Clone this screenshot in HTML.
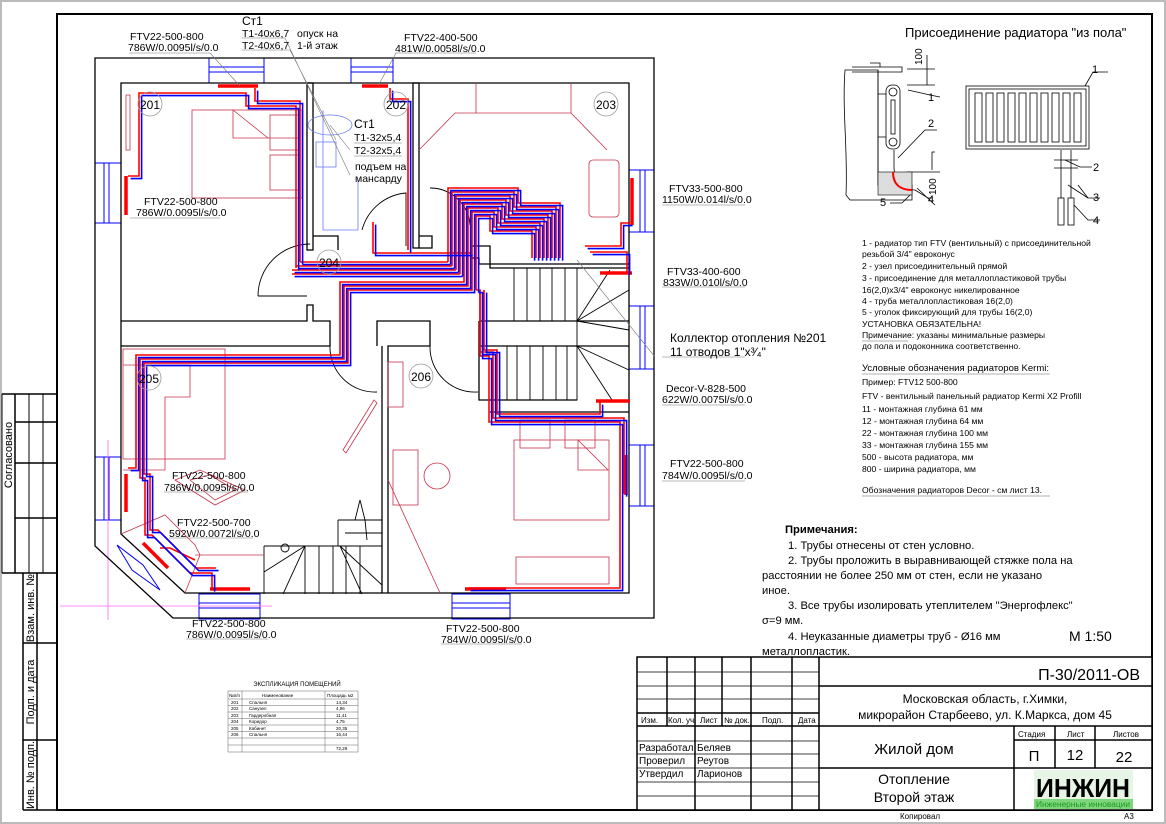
<!DOCTYPE html>
<html><head><meta charset="utf-8"><style>
html,body{margin:0;padding:0;background:#fff}
svg{display:block}
text{font-family:"Liberation Sans",sans-serif;fill:#000}
</style></head><body>
<svg width="1166" height="824" viewBox="0 0 1166 824" xmlns="http://www.w3.org/2000/svg">
<rect x="0" y="0" width="1166" height="824" fill="#fff"/>
<rect x="1" y="1" width="1164" height="822" fill="none" stroke="#bbb" stroke-width="2"/>
<rect x="57" y="14" width="1095" height="796" fill="none" stroke="#000" stroke-width="2"/>
<g stroke="#000" fill="none">
<line x1="2" y1="394" x2="57" y2="394" stroke-width="1.5"/>
<line x1="15" y1="394" x2="15" y2="573" stroke-width="1.5"/>
<line x1="29" y1="394" x2="29" y2="573"/>
<line x1="43" y1="394" x2="43" y2="573"/>
<line x1="15" y1="422" x2="57" y2="422" stroke-width="1.5"/>
<line x1="15" y1="463" x2="57" y2="463" stroke-width="1.5"/>
<line x1="15" y1="518" x2="57" y2="518" stroke-width="1.5"/>
<line x1="2" y1="573" x2="57" y2="573" stroke-width="1.5"/>
<line x1="23" y1="573" x2="23" y2="810" stroke-width="1.5"/>
<line x1="37" y1="573" x2="37" y2="810" stroke-width="1.5"/>
<line x1="23" y1="643" x2="57" y2="643" stroke-width="1.5"/>
<line x1="23" y1="740" x2="57" y2="740" stroke-width="1.5"/>
<line x1="23" y1="810" x2="57" y2="810" stroke-width="1.5"/>
<line x1="2" y1="394" x2="2" y2="573"/>
</g>
<g font-size="11">
<text transform="translate(12,455) rotate(-90)" text-anchor="middle">Согласовано</text>
<text transform="translate(34,608) rotate(-90)" text-anchor="middle">Взам. инв. №</text>
<text transform="translate(34,692) rotate(-90)" text-anchor="middle">Подп. и дата</text>
<text transform="translate(34,775) rotate(-90)" text-anchor="middle">Инв. № подп.</text>
</g>

<g stroke="#0000ff" fill="none" stroke-width="1">
<rect x="209" y="58" width="55" height="25"/><line x1="209" y1="67" x2="264" y2="67"/><line x1="209" y1="72" x2="264" y2="72"/>
<rect x="351" y="58" width="42" height="25"/><line x1="351" y1="67" x2="393" y2="67"/><line x1="351" y1="72" x2="393" y2="72"/>
<rect x="95" y="163" width="26" height="60"/><line x1="104" y1="163" x2="104" y2="223"/><line x1="109" y1="163" x2="109" y2="223"/>
<rect x="95" y="457" width="26" height="63"/><line x1="104" y1="457" x2="104" y2="520"/><line x1="109" y1="457" x2="109" y2="520"/>
<rect x="629" y="170" width="25" height="62"/><line x1="640" y1="170" x2="640" y2="232"/><line x1="645" y1="170" x2="645" y2="232"/>
<rect x="629" y="306" width="25" height="63"/><line x1="640" y1="306" x2="640" y2="369"/><line x1="645" y1="306" x2="645" y2="369"/>
<rect x="629" y="445" width="25" height="61"/><line x1="640" y1="445" x2="640" y2="506"/><line x1="645" y1="445" x2="645" y2="506"/>
<rect x="199" y="594" width="61" height="25"/><line x1="199" y1="603" x2="260" y2="603"/><line x1="199" y1="608" x2="260" y2="608"/>
<rect x="452" y="594" width="58" height="25"/><line x1="452" y1="603" x2="510" y2="603"/><line x1="452" y1="608" x2="510" y2="608"/>
<polygon points="117,545 143,565 160,590 132,570"/>
</g>
<g stroke="#ff66ff" stroke-width="0.8">
<line x1="108" y1="440" x2="108" y2="620"/><line x1="60" y1="606" x2="272" y2="606"/>
</g>
<g stroke="#000" fill="none" stroke-width="1.3">
<path d="M95,58 H654 V618 H173 L95,546 Z"/>
<path d="M121,83 H629 V593 H185 L121,534 Z"/>
<rect x="307" y="83" width="6" height="167"/>
<path d="M313,236 H338 V250"/>
<rect x="413" y="83" width="6" height="165"/>
<path d="M419,236 H432 V248 H419"/>
<path d="M121,321 H307 V305 H313 V321 H330 V346 H121"/>
<path d="M377,346 V321 H430 V346 H388 V593 M382,346 V593"/>
<path d="M479,321 H629 M479,321 V346 H629"/>
<path d="M470,246 H490 V264 H629 M470,258 H479 V264 H490 V268 H629"/>
<path d="M490,412 H629 M490,400 H577"/>
<path d="M479,346 V400 H490"/>
</g>
<g stroke="#000" fill="none" stroke-width="0.9">
<rect x="514" y="268" width="63" height="53"/>
<line x1="527" y1="268" x2="527" y2="321"/><line x1="540" y1="268" x2="540" y2="321"/><line x1="552" y1="268" x2="552" y2="321"/><line x1="565" y1="268" x2="565" y2="321"/>
<rect x="507" y="346" width="70" height="54"/>
<line x1="517" y1="346" x2="517" y2="400"/><line x1="530" y1="346" x2="530" y2="400"/><line x1="543" y1="346" x2="543" y2="400"/><line x1="556" y1="346" x2="556" y2="400"/><line x1="567" y1="346" x2="567" y2="400"/>
<path d="M577,321 L629,290 M577,321 L610,270 M577,321 L629,330 M577,346 L629,370 M577,346 L612,400 M577,321 V346"/>
<path d="M264,546 H382 M264,546 V594 M305,546 V594 M319,546 V594 M333,546 V594 M346,546 V594 M360,546 V594 M305,546 L283,594 M305,546 L264,572 M340,546 L362,594 M340,546 L382,585"/>
<circle cx="285" cy="548" r="4"/>
<path d="M338,520 H382 M338,520 V546 M345,533 H382 M355,520 L360,500 L365,520 L367,540"/>
<path d="M258,296 A52,52 0 0 1 310,244"/><path d="M258,296 H307"/>
<path d="M362,230 A50,50 0 0 1 406,193 V246"/>
<path d="M330,346 A45,45 0 0 0 377,392"/>
<path d="M430,346 A45,45 0 0 0 478,392"/>
<path d="M430,188 A40,40 0 0 1 470,225"/>
</g>
<g stroke="#c8324b" fill="none" stroke-width="0.8">
<rect x="192" y="110" width="110" height="88"/><path d="M233,110 V138 H300 M233,110 L268,138"/>
<rect x="270" y="115" width="30" height="35"/><rect x="270" y="155" width="30" height="35"/>
<rect x="126" y="95" width="4" height="55"/>
<path d="M419,150 L455,113 H571 L607,150"/><path d="M476,83 V113 M571,83 V113"/>
<rect x="589" y="160" width="30" height="57" rx="4"/>
<rect x="123" y="349" width="102" height="110"/>
<path d="M123,365 H190 V397 H165 V470 H123"/>
<path d="M175,480 L215,505 L245,490 L200,470 Z M190,480 L215,500 L235,490 L210,475 Z"/>
<path d="M121,534 L165,515 L195,545 L200,555 L185,593"/>
<path d="M195,555 H264"/>
<path d="M343,450 L374,400 L377,403 L346,453 Z"/>
<rect x="393" y="450" width="25" height="55"/>
<circle cx="437" cy="476" r="13"/>
<rect x="514" y="440" width="95" height="80"/><path d="M578,440 L608,470 H578 Z"/>
<rect x="520" y="420" width="30" height="28"/><rect x="565" y="420" width="30" height="28"/>
<rect x="516" y="557" width="93" height="27"/>
<path d="M388,480 L440,593"/>
<rect x="388" y="362" width="15" height="45"/>
</g>
<g stroke="#ff0000" stroke-width="3.5">
<line x1="218" y1="86" x2="258" y2="86"/>
<line x1="362" y1="86" x2="388" y2="86"/>
<line x1="126" y1="176" x2="126" y2="215"/>
<line x1="632" y1="178" x2="632" y2="225"/>
<line x1="600" y1="273" x2="632" y2="273"/>
<line x1="596" y1="401" x2="630" y2="401"/>
<line x1="626" y1="455" x2="626" y2="495"/>
<line x1="126" y1="474" x2="126" y2="512"/>
<line x1="143" y1="543" x2="168" y2="568"/>
<line x1="210" y1="589" x2="250" y2="589"/>
<line x1="465" y1="589" x2="506" y2="589"/>
</g>
<g fill="none" stroke-width="1.6" stroke="#ff0000">
<path d="M300,262 V101 H255 V88"/>
<path d="M296,268 V106 H246 V93 H139 V176 H128"/>
<path d="M408,250 V99 H390 V88"/>
<path d="M373,222 V253 H470"/>
<path d="M585,246 H621 V223 H630"/>
<path d="M590,252 H627 V272"/>
<path d="M448,262 V188 H518 V203 H560 V258"/>
<path d="M452,266 V192 H514 V207 H556 V258"/>
<path d="M456,270 V196 H510 V211 H552 V258"/>
<path d="M460,274 V200 H506 V215 H548 V258"/>
<path d="M464,278 V204 H502 V219 H544 V258"/>
<path d="M468,282 V208 H498 V223 H540 V258"/>
<path d="M472,286 V212 H494 V227 H536 V258"/>
<path d="M476,290 V216 H490 V231 H532 V258"/>
<path d="M448,262 H300"/>
<path d="M452,266 H296"/>
<path d="M456,270 H292"/>
<path d="M460,274 H292"/>
<path d="M464,278 V282 H340 V355 H136 V468 H128"/>
<path d="M468,282 V286 H344 V359 H140 V478 H145 V535 H152 L190,573 H212 V589"/>
<path d="M472,286 V290 H348 V363 H144 V474 H150 V530 H158 L196,568 H216"/>
<path d="M476,290 H480 V352 H493 V418 H624 V494"/>
<path d="M480,290 V356 H489 V422 H620 V588 H468"/>
<path d="M484,290 V350 H497 V414 H600 V402"/>
<path d="M160,548 H170 L195,560"/>
</g>
<g fill="none" stroke-width="1.6" stroke="#0000ff" transform="translate(2.6,2.6)">
<path d="M300,262 V101 H255 V88"/>
<path d="M296,268 V106 H246 V93 H139 V176 H128"/>
<path d="M408,250 V99 H390 V88"/>
<path d="M373,222 V253 H470"/>
<path d="M585,246 H621 V223 H630"/>
<path d="M590,252 H627 V272"/>
<path d="M448,262 V188 H518 V203 H560 V258"/>
<path d="M452,266 V192 H514 V207 H556 V258"/>
<path d="M456,270 V196 H510 V211 H552 V258"/>
<path d="M460,274 V200 H506 V215 H548 V258"/>
<path d="M464,278 V204 H502 V219 H544 V258"/>
<path d="M468,282 V208 H498 V223 H540 V258"/>
<path d="M472,286 V212 H494 V227 H536 V258"/>
<path d="M476,290 V216 H490 V231 H532 V258"/>
<path d="M448,262 H300"/>
<path d="M452,266 H296"/>
<path d="M456,270 H292"/>
<path d="M460,274 H292"/>
<path d="M464,278 V282 H340 V355 H136 V468 H128"/>
<path d="M468,282 V286 H344 V359 H140 V478 H145 V535 H152 L190,573 H212 V589"/>
<path d="M472,286 V290 H348 V363 H144 V474 H150 V530 H158 L196,568 H216"/>
<path d="M476,290 H480 V352 H493 V418 H624 V494"/>
<path d="M480,290 V356 H489 V422 H620 V588 H468"/>
<path d="M484,290 V350 H497 V414 H600 V402"/>
</g>
<g stroke="#6a7cff" fill="none" stroke-width="0.8">
<path d="M323,110 V230 H358 V180"/><rect x="316" y="142" width="20" height="25"/><ellipse cx="330" cy="125" rx="22" ry="10"/>
</g>
<g stroke="#777" stroke-width="0.6" fill="none">
<path d="M129,53 H210 L240,86"/><path d="M395,53 H476 M396,53 L378,86"/>
<path d="M242,50 H290 L336,140 M242,38 H285 L350,175"/>
<path d="M354,143 H402 M354,156 H402 M350,150 L330,125"/>
<path d="M130,218 H220"/><path d="M662,205 H745 M662,287 H745 M662,405 H745 M662,481 H745 M662,357 H745"/>
<path d="M655,357 L577,260"/>
<path d="M164,492 H248 M169,538 H253 M186,639 H268 M441,644 H522"/>
</g>
<g fill="none" stroke="#999" stroke-width="0.8">
<circle cx="150" cy="104" r="12"/><circle cx="396" cy="104" r="12"/><circle cx="606" cy="104" r="12"/>
<circle cx="329" cy="262" r="12"/><circle cx="149" cy="378" r="12"/><circle cx="421" cy="376" r="12"/>
</g>
<g font-size="12" text-anchor="middle">
<text x="150" y="109">201</text><text x="396" y="109">202</text><text x="606" y="109">203</text>
<text x="329" y="267">204</text><text x="149" y="383">205</text><text x="421" y="381">206</text>
</g>
<g font-size="10.5">
<text x="130" y="40">FTV22-500-800</text><text x="128" y="51">786W/0.0095l/s/0.0</text>
<text x="242" y="25" font-size="12">Ст1</text><text x="242" y="37">T1-40x6,7</text><text x="242" y="49">T2-40x6,7</text>
<text x="297" y="37">опуск на</text><text x="297" y="49">1-й этаж</text>
<text x="404" y="41">FTV22-400-500</text><text x="395" y="52">481W/0.0058l/s/0.0</text>
<text x="354" y="128" font-size="12">Ст1</text><text x="354" y="141">T1-32x5,4</text><text x="354" y="154">T2-32x5,4</text>
<text x="355" y="170">подъем на</text><text x="355" y="182">мансарду</text>
<text x="144" y="205">FTV22-500-800</text><text x="136" y="216">786W/0.0095l/s/0.0</text>
<text x="669" y="192">FTV33-500-800</text><text x="662" y="203">1150W/0.014l/s/0.0</text>
<text x="667" y="275">FTV33-400-600</text><text x="663" y="286">833W/0.010l/s/0.0</text>
<text x="670" y="342" font-size="12">Коллектор отопления №201</text>
<text x="670" y="356" font-size="12">11 отводов 1"x³⁄₄"</text>
<text x="666" y="392">Decor-V-828-500</text><text x="662" y="403">622W/0.0075l/s/0.0</text>
<text x="670" y="467">FTV22-500-800</text><text x="662" y="479">784W/0.0095l/s/0.0</text>
<text x="172" y="479">FTV22-500-800</text><text x="164" y="491">786W/0.0095l/s/0.0</text>
<text x="177" y="526">FTV22-500-700</text><text x="169" y="537">592W/0.0072l/s/0.0</text>
<text x="192" y="627">FTV22-500-800</text><text x="186" y="638">786W/0.0095l/s/0.0</text>
<text x="446" y="632">FTV22-500-800</text><text x="441" y="643">784W/0.0095l/s/0.0</text>
</g>

<text x="905" y="37" font-size="13">Присоединение радиатора "из пола"</text>
<g stroke="#000" fill="none" stroke-width="0.8">
<path d="M845,70 C842,110 848,150 846,195 L850,200 H912 V185 H878 V70 Z" fill="#fff"/>
<path d="M852,67 H902 V72 H852"/>
<path d="M870,63 H880 V67"/>
<line x1="878" y1="70" x2="878" y2="185"/>
<rect x="886" y="85" width="14" height="64" rx="6"/>
<circle cx="893" cy="92" r="4"/><circle cx="893" cy="142" r="4"/>
<rect x="891" y="100" width="4" height="34"/>
<path d="M878,94 H886 M878,137 H886"/>
<path d="M894,150 V168 M894,168 C895,185 905,190 915,190"/>
<path d="M927,55 V85 M907,69 H935 M907,85 H935 M935,152 H932 V170 M907,172 H940"/>
<path d="M908,90 L930,95 L940,97"/><path d="M898,158 L925,130 L937,130"/>
<path d="M910,195 L902,203 L890,203"/><path d="M915,190 L928,198 L932,198"/>
<path d="M917,188 L935,205"/>
<rect x="966" y="86" width="123" height="63"/><rect x="969" y="89" width="117" height="57"/>
<path d="M1085,86 L1093,72 H1108"/>
<path d="M1065,160 L1080,167 H1092"/><path d="M1078,185 L1088,198 H1100"/><path d="M1068,185 L1088,198"/>
<path d="M1074,205 L1088,220 H1100"/>
<rect x="1058" y="198" width="6" height="27"/><rect x="1068" y="198" width="6" height="27"/>
<path d="M1061,150 V198 M1071,150 V198"/>
<path d="M1054,160 H1078 M1054,168 H1078"/>
</g>
<g stroke="#000" stroke-width="0.8" fill="none">
<rect x="975" y="93" width="7" height="49"/><rect x="986" y="93" width="7" height="49"/><rect x="997" y="93" width="7" height="49"/><rect x="1008" y="93" width="7" height="49"/><rect x="1019" y="93" width="7" height="49"/><rect x="1030" y="93" width="7" height="49"/><rect x="1041" y="93" width="7" height="49"/><rect x="1052" y="93" width="7" height="49"/><rect x="1063" y="93" width="7" height="49"/><rect x="1074" y="93" width="7" height="49"/>
</g>
<rect x="878" y="172" width="34" height="23" fill="#ddd" stroke="#000" stroke-width="0.6"/>
<path d="M893,172 C893,186 902,190 912,190" stroke="#f00" stroke-width="2" fill="none"/>
<g font-size="11">
<text x="1092" y="73">1</text><text x="928" y="101">1</text><text x="928" y="127">2</text>
<text x="1093" y="171">2</text><text x="1093" y="201">3</text><text x="1093" y="224">4</text>
<text x="880" y="206">5</text><text x="928" y="203">4</text>
<text transform="translate(922,65) rotate(-90)" font-size="10">100</text>
<text transform="translate(936,195) rotate(-90)" font-size="10">100</text>
</g>
<g font-size="8.6">
<text x="862" y="246">1 - радиатор тип FTV (вентильный) с присоединительной</text>
<text x="862" y="257">резьбой 3/4" евроконус</text>
<text x="862" y="269">2 - узел присоединительный прямой</text>
<text x="862" y="281">3 - присоединение для металлопластиковой трубы</text>
<text x="862" y="293">16(2,0)x3/4" евроконус никелированное</text>
<text x="862" y="304">4 - труба металлопластиковая 16(2,0)</text>
<text x="862" y="315">5 - уголок фиксирующий для трубы 16(2,0)</text>
<text x="862" y="327">УСТАНОВКА ОБЯЗАТЕЛЬНА!</text>
<text x="862" y="338">Примечание: указаны минимальные размеры</text>
<text x="862" y="349">до пола и подоконника соответственно.</text>
<text x="862" y="371" font-size="9.5">Условные обозначения радиаторов Kermi:</text>
<text x="862" y="385">Пример: FTV12 500-800</text>
<text x="862" y="399">FTV - вентильный панельный радиатор Kermi X2 Profill</text>
<text x="862" y="412">11 - монтажная глубина 61 мм</text>
<text x="862" y="424">12 - монтажная глубина 64 мм</text>
<text x="862" y="436">22 - монтажная глубина 100 мм</text>
<text x="862" y="448">33 - монтажная глубина 155 мм</text>
<text x="862" y="460">500 - высота радиатора, мм</text>
<text x="862" y="472">800 - ширина радиатора, мм</text>
<text x="862" y="493">Обозначения радиаторов Decor - см лист 13.</text>
</g>
<g stroke="#999" stroke-width="0.7"><line x1="862" y1="341" x2="908" y2="341"/><line x1="862" y1="374" x2="1050" y2="374"/><line x1="862" y1="496" x2="1050" y2="496"/></g>

<g font-size="11.2">
<text x="785" y="533" font-weight="bold">Примечания:</text>
<text x="788" y="549">1. Трубы отнесены от стен условно.</text>
<text x="788" y="564">2. Трубы проложить в выравнивающей стяжке  пола на</text>
<text x="762" y="579">расстоянии не более 250 мм от стен, если не указано</text>
<text x="762" y="594">иное.</text>
<text x="788" y="609">3. Все трубы изолировать утеплителем "Энергофлекс"</text>
<text x="762" y="624">σ=9 мм.</text>
<text x="788" y="640">4. Неуказанные диаметры труб - Ø16 мм</text>
<text x="762" y="655">металлопластик.</text>
<text x="1069" y="641" font-size="14">М 1:50</text>
</g>

<text x="297" y="686" font-size="6" text-anchor="middle">ЭКСПЛИКАЦИЯ ПОМЕЩЕНИЙ</text>
<g stroke="#666" stroke-width="0.5" fill="none">
<rect x="228" y="691" width="130" height="61"/>
<line x1="242" y1="691" x2="242" y2="752"/><line x1="325" y1="691" x2="325" y2="752"/>
<line x1="228" y1="699" x2="358" y2="699"/><line x1="228" y1="705.5" x2="358" y2="705.5"/><line x1="228" y1="712" x2="358" y2="712"/><line x1="228" y1="718.5" x2="358" y2="718.5"/><line x1="228" y1="725" x2="358" y2="725"/><line x1="228" y1="731.5" x2="358" y2="731.5"/><line x1="228" y1="738" x2="358" y2="738"/><line x1="228" y1="745" x2="358" y2="745"/>
</g>
<g font-size="4.5">
<text x="229" y="697">№п/п</text><text x="262" y="697">Наименование</text><text x="327" y="697">Площадь м2</text>
<text x="231" y="704">201</text><text x="249" y="704">Спальня</text><text x="336" y="704">14,34</text>
<text x="231" y="710">202</text><text x="249" y="710">Санузел</text><text x="336" y="710">4,96</text>
<text x="231" y="717">203</text><text x="249" y="717">Гардеробная</text><text x="336" y="717">11,41</text>
<text x="231" y="723">204</text><text x="249" y="723">Коридор</text><text x="336" y="723">4,75</text>
<text x="231" y="730">205</text><text x="249" y="730">Кабинет</text><text x="336" y="730">20,35</text>
<text x="231" y="736">206</text><text x="249" y="736">Спальня</text><text x="336" y="736">16,44</text>
<text x="336" y="750">72,29</text>
</g>

<g stroke="#000" fill="none" stroke-width="1.5">
<rect x="637" y="657" width="515" height="153" fill="#fff"/>
<line x1="819" y1="657" x2="819" y2="810"/>
<line x1="667" y1="657" x2="667" y2="726"/><line x1="695" y1="657" x2="695" y2="810"/><line x1="722" y1="657" x2="722" y2="726"/><line x1="751" y1="657" x2="751" y2="810"/><line x1="792" y1="657" x2="792" y2="810"/>
<line x1="637" y1="713" x2="819" y2="713"/><line x1="637" y1="726" x2="819" y2="726"/>
<line x1="819" y1="686" x2="1152" y2="686"/><line x1="819" y1="726" x2="1152" y2="726"/><line x1="819" y1="768" x2="1152" y2="768"/>
<line x1="1014" y1="726" x2="1014" y2="810"/><line x1="1055" y1="726" x2="1055" y2="768"/><line x1="1095" y1="726" x2="1095" y2="768"/>
<line x1="1014" y1="740" x2="1152" y2="740"/>
</g>
<g stroke="#000" stroke-width="0.8">
<line x1="637" y1="672" x2="819" y2="672"/><line x1="637" y1="686" x2="819" y2="686"/><line x1="637" y1="699" x2="819" y2="699"/>
<line x1="637" y1="741" x2="819" y2="741"/><line x1="637" y1="754" x2="819" y2="754"/><line x1="637" y1="768" x2="819" y2="768"/><line x1="637" y1="782" x2="819" y2="782"/><line x1="637" y1="796" x2="819" y2="796"/>
</g>
<g font-size="8">
<text x="641" y="723">Изм.</text><text x="668" y="723">Кол. уч.</text><text x="700" y="723">Лист</text><text x="724" y="723">№ док.</text><text x="762" y="723">Подп.</text><text x="798" y="723">Дата</text>
<text x="1018" y="737">Стадия</text><text x="1067" y="737">Лист</text><text x="1113" y="737">Листов</text>
</g>
<g font-size="10">
<text x="639" y="751">Разработал</text><text x="697" y="751">Беляев</text>
<text x="639" y="764">Проверил</text><text x="697" y="764">Реутов</text>
<text x="639" y="777">Утвердил</text><text x="697" y="777">Ларионов</text>
</g>
<text x="1140" y="680" font-size="16" text-anchor="end">П-30/2011-ОВ</text>
<text x="985" y="703" font-size="12" text-anchor="middle">Московская область, г.Химки,</text>
<text x="985" y="719" font-size="12" text-anchor="middle">микрорайон Старбеево, ул. К.Маркса, дом 45</text>
<text x="914" y="754" font-size="15" text-anchor="middle">Жилой дом</text>
<text x="914" y="784" font-size="14" text-anchor="middle">Отопление</text>
<text x="914" y="802" font-size="14" text-anchor="middle">Второй этаж</text>
<text x="1034" y="761" font-size="15" text-anchor="middle">П</text>
<text x="1075" y="760" font-size="15" text-anchor="middle">12</text>
<text x="1124" y="762" font-size="15" text-anchor="middle">22</text>
<rect x="1034" y="770" width="99" height="39" fill="#e6f5e6"/>
<rect x="1034" y="799" width="99" height="10" fill="#7fd67f"/>
<text x="1083" y="797" font-size="26" font-weight="bold" text-anchor="middle" textLength="94" lengthAdjust="spacingAndGlyphs">ИНЖИН</text>
<text x="1083" y="807" font-size="8" text-anchor="middle" style="fill:#1a9a1a" textLength="94" lengthAdjust="spacingAndGlyphs">Инженерные инновации</text>
<text x="900" y="819" font-size="8">Копировал</text>
<text x="1124" y="819" font-size="8">А3</text>
</svg>
</body></html>
